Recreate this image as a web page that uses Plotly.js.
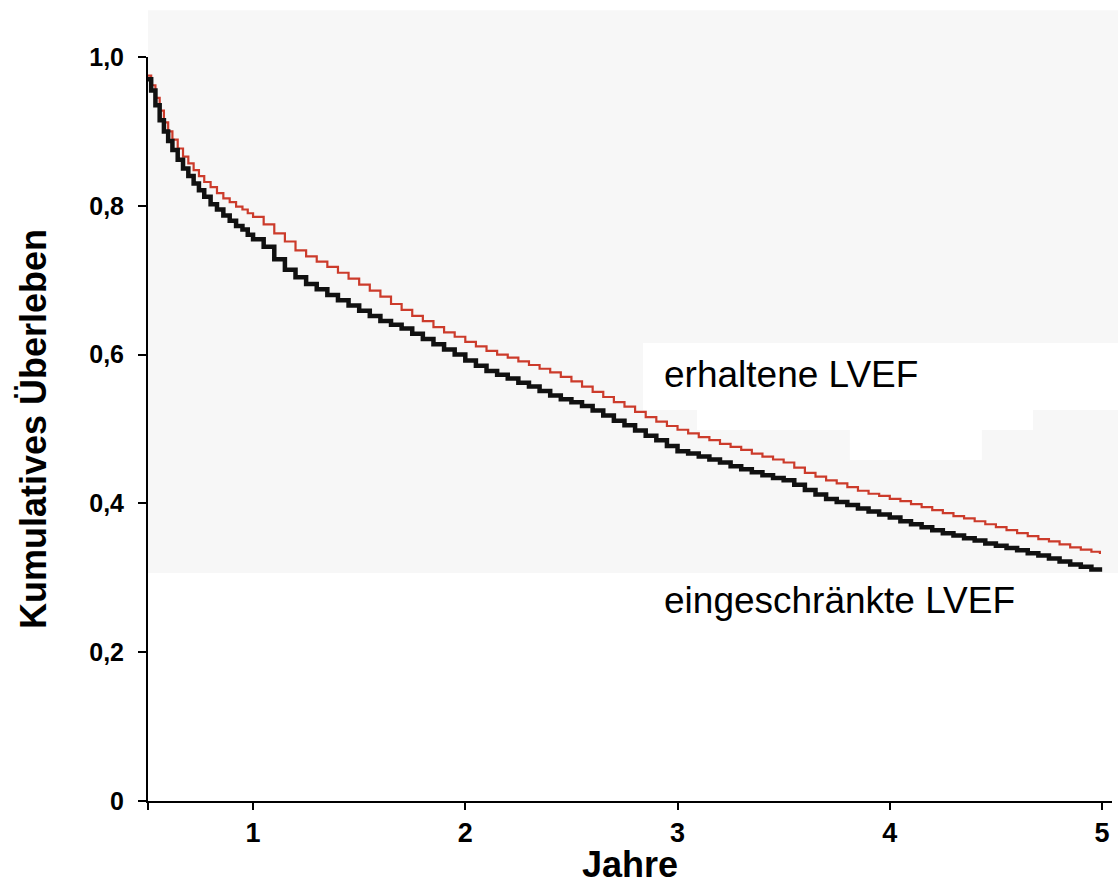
<!DOCTYPE html>
<html>
<head>
<meta charset="utf-8">
<script src="https://cdn.plot.ly/plotly-3.0.1.min.js"></script>
<style>
  html, body { margin: 0; padding: 0; background: #ffffff; }
  #chart { width: 1118px; height: 885px; }
</style>
</head>
<body>
<div id="chart"></div>
<script>
// Time axis (years)
const years = [0.505, 0.52, 0.54, 0.56, 0.58, 0.60, 0.62, 0.645, 0.67, 0.695, 0.72, 0.745, 0.77, 0.80, 0.83, 0.86, 0.89, 0.92, 0.95, 0.975,
  1.00, 1.05, 1.10, 1.15, 1.20, 1.25, 1.30, 1.35, 1.40, 1.45, 1.50, 1.55, 1.60, 1.65, 1.70, 1.75, 1.80, 1.85, 1.90, 1.95,
  2.00, 2.05, 2.10, 2.15, 2.20, 2.25, 2.30, 2.35, 2.40, 2.45, 2.50, 2.55, 2.60, 2.65, 2.70, 2.75, 2.80, 2.85, 2.90, 2.95,
  3.00, 3.05, 3.10, 3.15, 3.20, 3.25, 3.30, 3.35, 3.40, 3.45, 3.50, 3.55, 3.60, 3.65, 3.70, 3.75, 3.80, 3.85, 3.90, 3.95,
  4.00, 4.05, 4.10, 4.15, 4.20, 4.25, 4.30, 4.35, 4.40, 4.45, 4.50, 4.55, 4.60, 4.65, 4.70, 4.75, 4.80, 4.85, 4.90, 4.95, 4.99];

// Cumulative survival, preserved LVEF (red)
const erhalteneLVEF = [0.975, 0.962, 0.945, 0.928, 0.912, 0.900, 0.889, 0.877, 0.866, 0.857, 0.848, 0.840, 0.832, 0.825, 0.817, 0.810, 0.805, 0.799, 0.795, 0.790,
  0.785, 0.775, 0.763, 0.752, 0.740, 0.732, 0.725, 0.718, 0.710, 0.702, 0.694, 0.686, 0.678, 0.668, 0.660, 0.652, 0.645, 0.637, 0.630, 0.624,
  0.617, 0.611, 0.605, 0.600, 0.596, 0.591, 0.586, 0.581, 0.576, 0.570, 0.564, 0.557, 0.550, 0.543, 0.536, 0.530, 0.523, 0.516, 0.510, 0.504,
  0.499, 0.494, 0.489, 0.485, 0.480, 0.476, 0.472, 0.467, 0.463, 0.459, 0.455, 0.448, 0.441, 0.436, 0.431, 0.427, 0.422, 0.417, 0.413, 0.410,
  0.406, 0.403, 0.399, 0.395, 0.391, 0.387, 0.383, 0.380, 0.376, 0.372, 0.368, 0.364, 0.360, 0.356, 0.352, 0.349, 0.345, 0.341, 0.338, 0.335, 0.332];

// Cumulative survival, reduced LVEF (black)
const eingeschraenkteLVEF = [0.970, 0.955, 0.935, 0.915, 0.900, 0.887, 0.875, 0.862, 0.850, 0.840, 0.830, 0.821, 0.812, 0.802, 0.795, 0.787, 0.780, 0.773, 0.768, 0.761,
  0.755, 0.745, 0.728, 0.714, 0.704, 0.695, 0.688, 0.680, 0.673, 0.666, 0.659, 0.652, 0.645, 0.640, 0.635, 0.628, 0.621, 0.614, 0.607, 0.600,
  0.592, 0.585, 0.578, 0.573, 0.568, 0.562, 0.557, 0.551, 0.545, 0.540, 0.536, 0.531, 0.525, 0.518, 0.511, 0.505, 0.498, 0.491, 0.485, 0.477,
  0.470, 0.467, 0.463, 0.459, 0.455, 0.450, 0.446, 0.442, 0.438, 0.434, 0.431, 0.425, 0.418, 0.412, 0.406, 0.402, 0.398, 0.393, 0.389, 0.385,
  0.381, 0.376, 0.372, 0.368, 0.364, 0.360, 0.357, 0.353, 0.350, 0.346, 0.343, 0.340, 0.337, 0.333, 0.330, 0.326, 0.322, 0.318, 0.315, 0.311, 0.308];

const xTickVals = [0.505, 1, 2, 3, 4, 5];
const xTickText = ['', '1', '2', '3', '4', '5'];
const yTickVals = [0, 0.2, 0.4, 0.6, 0.8, 1.0];
const yTickText = ['0', '0,2', '0,4', '0,6', '0,8', '1,0'];

const seriesNames = ['erhaltene LVEF', 'eingeschränkte LVEF'];

const traces = [
  {
    x: years, y: erhalteneLVEF, name: seriesNames[0],
    type: 'scatter', mode: 'lines',
    line: { shape: 'hv', color: '#cc3b2b', width: 2.2 }
  },
  {
    x: years, y: eingeschraenkteLVEF, name: seriesNames[1],
    type: 'scatter', mode: 'lines',
    line: { shape: 'hv', color: '#111111', width: 4.5 }
  }
];

const FONT = 'Liberation Sans, Arial, Helvetica, sans-serif';

const layout = {
  width: 1118, height: 885,
  margin: { l: 148, r: 6, t: 57, b: 84, pad: 0 },
  paper_bgcolor: '#ffffff',
  plot_bgcolor: 'rgba(0,0,0,0)',
  showlegend: false,
  font: { family: FONT, color: '#000000' },
  xaxis: {
    range: [0.505, 5.047],
    showgrid: false, zeroline: false,
    showline: true, linecolor: '#000000', linewidth: 2,
    ticks: 'outside', ticklen: 7, tickwidth: 2, tickcolor: '#000000',
    tickvals: xTickVals, ticktext: xTickText,
    tickfont: { family: FONT, size: 27, color: '#000000', weight: 'bold' },
    ticklabelstandoff: 0,
    title: { text: '<b>Jahre</b>', font: { family: FONT, size: 36, color: '#000000' }, standoff: 0 }
  },
  yaxis: {
    range: [0, 1.0],
    showgrid: false, zeroline: false,
    showline: true, linecolor: '#000000', linewidth: 2,
    ticks: 'outside', ticklen: 8, tickwidth: 2, tickcolor: '#000000',
    tickvals: yTickVals, ticktext: yTickText,
    tickfont: { family: FONT, size: 25, color: '#000000', weight: 'bold' },
    ticklabelstandoff: 9,
    title: { text: '<b>Kumulatives Überleben</b>', font: { family: FONT, size: 36, color: '#000000' }, standoff: 32 }
  },
  shapes: [
    { type: 'rect', xref: 'paper', yref: 'paper', x0: 0, x1: 1.007, y0: 0.3065, y1: 1.063,
      fillcolor: '#f7f7f7', line: { width: 0 }, layer: 'below' },
    { type: 'rect', xref: 'paper', yref: 'paper', x0: 0.5135, x1: 1.007, y0: 0.5256, y1: 0.6156,
      fillcolor: '#ffffff', line: { width: 0 }, layer: 'below' },
    { type: 'rect', xref: 'paper', yref: 'paper', x0: 0.5695, x1: 0.918, y0: 0.4987, y1: 0.5256,
      fillcolor: '#ffffff', line: { width: 0 }, layer: 'below' },
    { type: 'rect', xref: 'paper', yref: 'paper', x0: 0.728, x1: 0.865, y0: 0.4583, y1: 0.4987,
      fillcolor: '#ffffff', line: { width: 0 }, layer: 'below' }
  ],
  annotations: [
    { text: seriesNames[0], x: 2.925, y: 0.5726, xref: 'x', yref: 'y', xanchor: 'left', yanchor: 'middle',
      showarrow: false, font: { family: FONT, size: 37, color: '#000000' } },
    { text: seriesNames[1], x: 2.925, y: 0.270, xref: 'x', yref: 'y', xanchor: 'left', yanchor: 'middle',
      showarrow: false, font: { family: FONT, size: 37, color: '#000000' } }
  ]
};

Plotly.newPlot('chart', traces, layout, { displayModeBar: false, staticPlot: true });
</script>
</body>
</html>
